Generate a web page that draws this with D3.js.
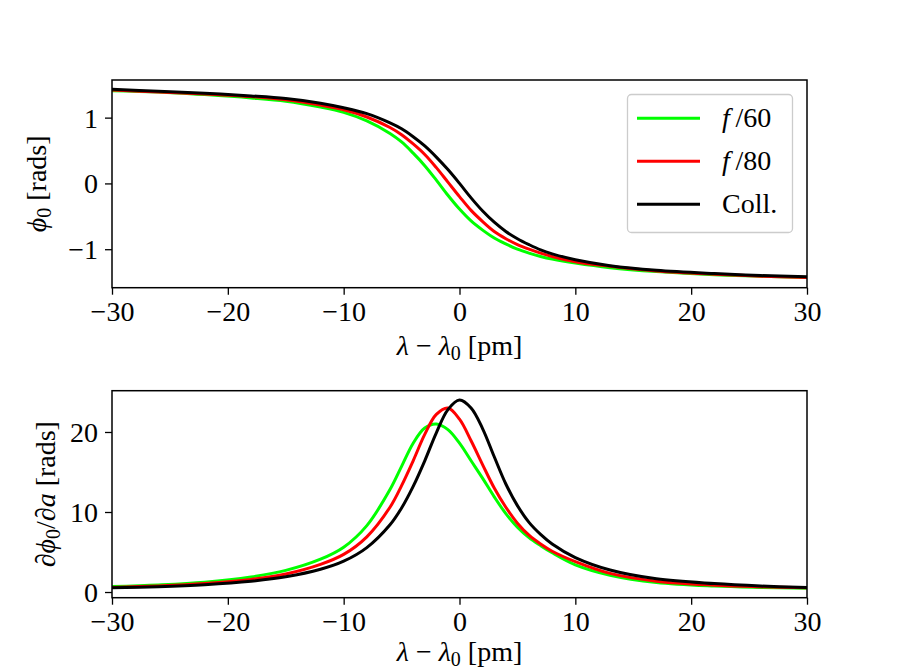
<!DOCTYPE html>
<html>
<head>
<meta charset="UTF-8">
<script src="https://d3js.org/d3.v7.min.js"></script>
<style>
  * { margin: 0; padding: 0; box-sizing: border-box; }
  body { background: #fff; width: 897px; height: 672px; overflow: hidden; }
  svg text { font-family: "Liberation Serif", "DejaVu Serif", serif; fill: #000; }
</style>
</head>
<body>
<div id="chart"></div>
<script>
// wavelength offset lambda - lambda0 [pm]
const xVals = [-30, -26, -22, -18, -15, -12, -10, -8, -6, -5, -4, -3, -2, -1, 0, 1, 2, 3, 4, 5, 6, 7, 8, 10, 13, 17, 22, 26, 30];

// phi_0 [rads]
const phiF60  = [1.41, 1.39, 1.35, 1.30, 1.25, 1.16, 1.08, 0.95, 0.76, 0.63, 0.46, 0.27, 0.05, -0.18, -0.39, -0.57, -0.71, -0.83, -0.92, -1.00, -1.06, -1.11, -1.15, -1.21, -1.28, -1.34, -1.39, -1.41, -1.43];
const phiF80  = [1.42, 1.39, 1.36, 1.32, 1.27, 1.19, 1.12, 1.01, 0.85, 0.74, 0.60, 0.44, 0.24, 0.02, -0.20, -0.41, -0.58, -0.73, -0.84, -0.93, -1.00, -1.06, -1.11, -1.19, -1.26, -1.33, -1.38, -1.41, -1.43];
const phiColl = [1.43, 1.40, 1.37, 1.33, 1.29, 1.22, 1.15, 1.06, 0.92, 0.83, 0.71, 0.57, 0.40, 0.21, 0.00, -0.22, -0.42, -0.59, -0.73, -0.84, -0.93, -1.01, -1.07, -1.16, -1.25, -1.32, -1.37, -1.40, -1.42];

// d phi_0 / d a [rads]
const dphiF60  = [0.68, 0.88, 1.22, 1.88, 2.7, 4.1, 5.6, 8.3, 12.8, 15.7, 18.6, 20.5, 21.0, 20.3, 18.6, 16.4, 14.2, 11.9, 9.8, 8.1, 6.8, 5.8, 4.9, 3.4, 2.1, 1.2, 0.75, 0.58, 0.48];
const dphiF80  = [0.57, 0.76, 1.06, 1.58, 2.25, 3.45, 4.7, 6.9, 10.6, 13.3, 16.4, 19.7, 22.2, 23.0, 21.6, 18.9, 15.9, 13.0, 10.6, 8.6, 7.1, 6.0, 5.1, 3.8, 2.33, 1.35, 0.85, 0.65, 0.52];
const dphiColl = [0.52, 0.67, 0.92, 1.35, 1.9, 2.84, 3.85, 5.55, 8.4, 10.5, 13.2, 16.4, 19.9, 22.8, 24.0, 23.0, 20.4, 16.9, 13.5, 10.8, 8.7, 7.2, 6.0, 4.3, 2.75, 1.65, 1.05, 0.75, 0.56];

const seriesNames = ["f/60", "f/80", "Coll."];
const seriesColors = ["#00ff00", "#ff0000", "#000000"];

const xTicks = [-30, -20, -10, 0, 10, 20, 30];
const topYTicks = [-1, 0, 1];
const botYTicks = [0, 10, 20];

const W = 897, H = 672;
const left = 112, right = 807;
const fs = 28;

const svg = d3.select("#chart").append("svg")
    .attr("width", W).attr("height", H);
svg.append("rect").attr("width", W).attr("height", H).attr("fill", "#fff");

const x = d3.scaleLinear().domain([-30, 30]).range([left, right]);

const minus = v => (v < 0 ? "\u2212" + Math.abs(v) : String(v));

function drawPanel(top, bottom, yDomain, yTicks, seriesList, yLabelFn, yLabelX, xLabelGap) {
    const y = d3.scaleLinear().domain(yDomain).range([bottom, top]);
    const g = svg.append("g");

    const line = d3.line()
        .x((d, i) => x(xVals[i]))
        .y(d => y(d))
        .curve(d3.curveCatmullRom.alpha(0.5));

    seriesList.forEach((vals, k) => {
        g.append("path")
            .attr("d", line(vals))
            .attr("fill", "none")
            .attr("stroke", seriesColors[k])
            .attr("stroke-width", 3)
            .attr("stroke-linejoin", "round");
    });

    // x axis
    const xa = g.append("g")
        .attr("transform", `translate(0,${bottom})`)
        .call(d3.axisBottom(x).tickValues(xTicks).tickSize(7).tickPadding(5).tickFormat(minus));
    xa.select(".domain").remove();
    xa.selectAll("line").attr("stroke", "#000").attr("stroke-width", 1.3);
    xa.selectAll("text").style("font-size", fs + "px").attr("dy", "0.76em");

    // y axis
    const ya = g.append("g")
        .attr("transform", `translate(${left},0)`)
        .call(d3.axisLeft(y).tickValues(yTicks).tickSize(7).tickPadding(7).tickFormat(minus));
    ya.select(".domain").remove();
    ya.selectAll("line").attr("stroke", "#000").attr("stroke-width", 1.3);
    ya.selectAll("text").style("font-size", fs + "px").attr("dy", "0.34em");

    // frame
    g.append("rect")
        .attr("x", left).attr("y", top)
        .attr("width", right - left).attr("height", bottom - top)
        .attr("fill", "none").attr("stroke", "#000").attr("stroke-width", 1.5);

    // x label
    const xl = g.append("text")
        .attr("x", (left + right) / 2).attr("y", bottom + xLabelGap)
        .attr("text-anchor", "middle")
        .style("font-size", fs + "px");
    xl.append("tspan").style("font-style", "italic").text("\u03bb");
    xl.append("tspan").text(" \u2212 ");
    xl.append("tspan").style("font-style", "italic").text("\u03bb");
    xl.append("tspan").attr("dy", 5).style("font-size", "20px").text("0");
    xl.append("tspan").attr("dy", -5).text(" [pm]");

    // y label
    const yl = g.append("text")
        .attr("transform", `translate(${yLabelX},${(top + bottom) / 2}) rotate(-90)`)
        .attr("text-anchor", "middle")
        .style("font-size", fs + "px");
    yLabelFn(yl);

    return y;
}

drawPanel(80, 287.7, [-1.585, 1.572], topYTicks, [phiF60, phiF80, phiColl], t => {
    t.append("tspan").style("font-style", "italic").text("\u03d5");
    t.append("tspan").attr("dy", 5).style("font-size", "20px").text("0");
    t.append("tspan").attr("dy", -5).text(" [rads]");
}, 46, 67);

drawPanel(390.7, 597.7, [-0.71, 25.16], botYTicks, [dphiF60, dphiF80, dphiColl], t => {
    t.append("tspan").text("\u2202");
    t.append("tspan").style("font-style", "italic").text("\u03d5");
    t.append("tspan").attr("dy", 5).style("font-size", "20px").text("0");
    t.append("tspan").attr("dy", -5).text("/\u2202");
    t.append("tspan").style("font-style", "italic").text("a");
    t.append("tspan").text(" [rads]");
}, 55, 63);

// legend
const lg = svg.append("g");
lg.append("rect")
    .attr("x", 627.5).attr("y", 94.5)
    .attr("width", 165).attr("height", 138)
    .attr("rx", 4)
    .attr("fill", "#fff").attr("fill-opacity", 0.8)
    .attr("stroke", "#cccccc").attr("stroke-width", 1.3);

seriesNames.forEach((name, i) => {
    const cy = 118.3 + i * 43;
    lg.append("line")
        .attr("x1", 637).attr("x2", 700)
        .attr("y1", cy).attr("y2", cy)
        .attr("stroke", seriesColors[i]).attr("stroke-width", 3);
    const t = lg.append("text")
        .attr("x", 722).attr("y", cy + 9)
        .style("font-size", fs + "px");
    if (name.startsWith("f/")) {
        t.append("tspan").style("font-style", "italic").text("f");
        t.append("tspan").text("\u2009/" + name.slice(2));
    } else {
        t.text(name);
    }
});
</script>
</body>
</html>
